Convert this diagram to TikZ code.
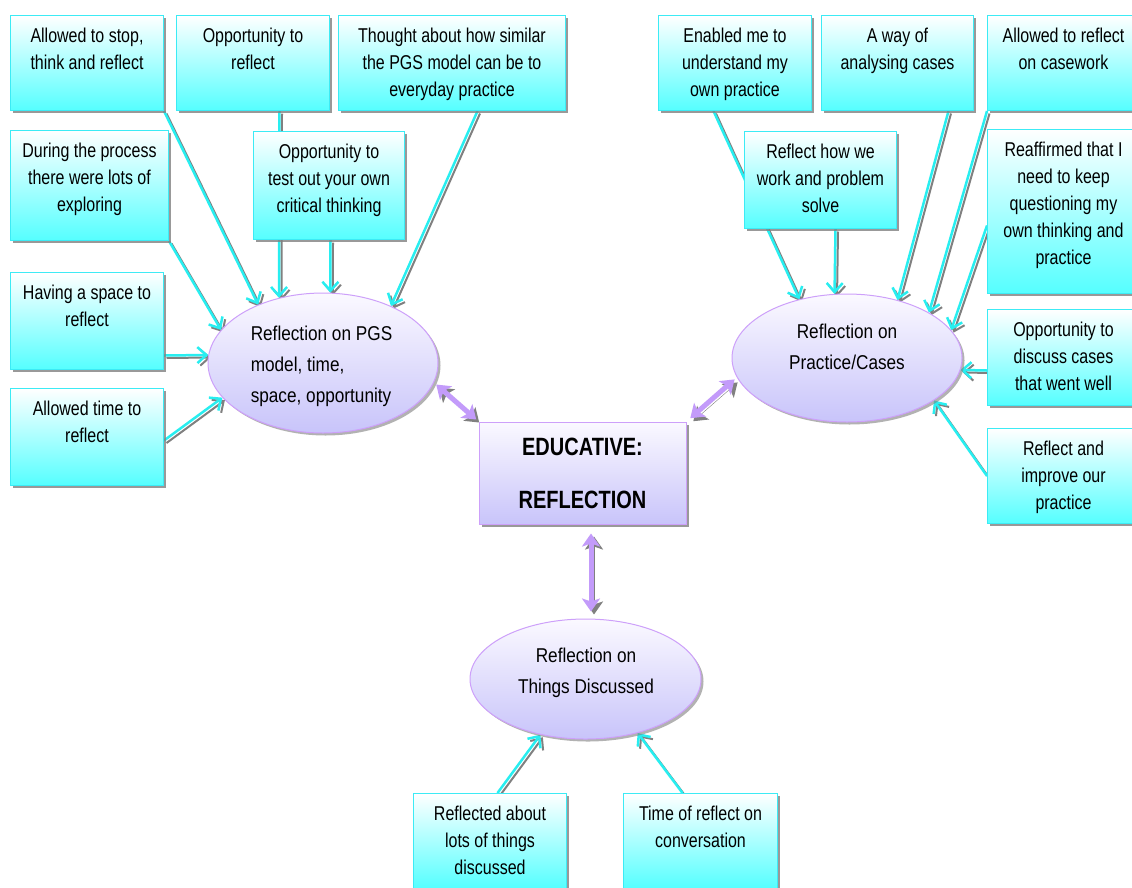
\documentclass[tikz,border=0pt]{standalone}
\usepackage{fontspec}
\setmainfont{Liberation Sans}[FakeStretch=0.8]
\newfontfamily\ellfont{Liberation Sans}[FakeStretch=0.86]
\usetikzlibrary{shapes.geometric,arrows.meta,shadows,backgrounds}

\definecolor{cyanfill}{RGB}{85,255,255}
\definecolor{cyanedge}{RGB}{60,235,245}
\definecolor{linecyan}{RGB}{40,238,240}
\definecolor{lavtop}{RGB}{251,249,255}
\definecolor{lavbot}{RGB}{200,196,250}
\definecolor{lavedge}{RGB}{205,160,250}
\definecolor{purparrow}{RGB}{195,155,250}
\definecolor{shadowgray}{RGB}{128,128,128}

% text block of a cyan box: fixed size, lines set from the top
\newcommand\boxtext[3]{\parbox[c][#2][t]{#1}{\centering\fontsize{20}{27}\selectfont\rule{0pt}{27pt}#3}}

\begin{document}
\begin{tikzpicture}[x=1pt,y=-1pt,
  cbox/.style={draw=cyanedge, line width=1pt, top color=white, bottom color=cyanfill,
    inner sep=0pt, anchor=north west,
    drop shadow={shadow xshift=2.5pt, shadow yshift=-2.5pt, fill=shadowgray, opacity=0.8}},
  ell/.style={ellipse, draw=lavedge, line width=1pt, top color=lavtop, bottom color=lavbot,
    inner sep=0pt,
    drop shadow={shadow xshift=2.5pt, shadow yshift=-2.5pt, fill=shadowgray, opacity=0.6}},
  etext/.style={font=\ellfont\fontsize{20}{31}\selectfont, inner sep=0pt},
  cenbox/.style={draw=lavedge, line width=1pt, top color=lavtop, bottom color=lavbot,
    minimum width=207pt, minimum height=102pt, inner sep=0pt, align=center,
    font=\fontsize{25}{53}\selectfont\bfseries,
    drop shadow={shadow xshift=2.5pt, shadow yshift=-2.5pt, fill=shadowgray, opacity=0.8}},
  carrow/.style={draw=linecyan, line width=2.5pt,
    -{Straight Barb[length=9pt,width=16pt]},
    preaction={draw=shadowgray, line width=2pt, transform canvas={xshift=2.5pt,yshift=-2.5pt}}},
  parrow/.style={draw=purparrow, line width=5pt,
    {Stealth[length=13pt,width=18pt,inset=3pt]}-{Stealth[length=13pt,width=18pt,inset=3pt]},
    preaction={draw=shadowgray, transform canvas={xshift=3pt,yshift=-3pt}}}
]
\useasboundingbox (0,0) rectangle (1132,887);
\clip (0,0) rectangle (1132,887);

% left group of statements
\node[cbox] (b1) at (10,15)  {\boxtext{153pt}{95pt}{Allowed to stop,\\think and reflect}};
\node[cbox] (b2) at (176,15) {\boxtext{153pt}{95pt}{Opportunity to\\reflect}};
\node[cbox] (b3) at (338,15) {\boxtext{227pt}{95pt}{Thought about how similar\\the PGS model can be to\\everyday practice}};
\node[cbox] (b4) at (10,130) {\boxtext{158pt}{110pt}{During the process\\there were lots of\\exploring}};
\node[cbox] (b5) at (253,131) {\boxtext{151pt}{108pt}{Opportunity to\\test out your own\\critical thinking}};
\node[cbox] (b6) at (10,272) {\boxtext{153pt}{97pt}{Having a space to\\reflect}};
\node[cbox] (b7) at (10,388) {\boxtext{153pt}{97pt}{Allowed time to\\reflect}};

% right group of statements
\node[cbox] (b8)  at (658,15)  {\boxtext{153pt}{95pt}{Enabled me to\\understand my\\own practice}};
\node[cbox] (b9)  at (821,15)  {\boxtext{152pt}{95pt}{A way of\\analysing cases}};
\node[cbox] (b10) at (987,15)  {\boxtext{152pt}{95pt}{Allowed to reflect\\on casework}};
\node[cbox] (b11) at (744,131) {\boxtext{152pt}{97pt}{Reflect how we\\work and problem\\solve}};
\node[cbox] (b12) at (987,129) {\boxtext{152pt}{164pt}{Reaffirmed that I\\need to keep\\questioning my\\own thinking and\\practice}};
\node[cbox] (b13) at (987,309) {\boxtext{152pt}{96pt}{Opportunity to\\discuss cases\\that went well}};
\node[cbox] (b14) at (987,428) {\boxtext{152pt}{95pt}{Reflect and\\improve our\\practice}};

% bottom statements
\node[cbox] (b15) at (413,793) {\boxtext{153pt}{95pt}{Reflected about\\lots of things\\discussed}};
\node[cbox] (b16) at (623,793) {\boxtext{154pt}{95pt}{Time of reflect on\\conversation}};

% themes
\node[ell, minimum width=230pt, minimum height=140pt] (e1) at (323,363) {};
\node[etext, align=left] (e1t) at (321.5,366) {Reflection on PGS\\model, time,\\space, opportunity};
\node[ell, minimum width=230pt, minimum height=128pt] (e2) at (847,358) {};
\node[etext, align=center] (e2t) at (847,347) {Reflection on\\Practice/Cases};
\node[ell, minimum width=231pt, minimum height=120pt] (e3) at (585.5,679) {};
\node[etext, align=center] (e3t) at (586,673) {Reflection on\\Things Discussed};

% central concept
\node[cenbox] (c) at (582.5,473) {EDUCATIVE:\\REFLECTION};

\begin{pgfonlayer}{background}
\fill[white] (0,0) rectangle (1132,887);
% statements feeding the PGS theme
\draw[carrow] (b1.south east) -- (e1.138);
\draw[carrow] (b4.south east) -- (e1.162);
\draw[carrow] ([xshift=26.5pt]b2.south) -- (e1.124);
\draw[carrow] ([xshift=1.5pt]b5.south) -- (e1.84);
\draw[carrow] ([xshift=25.5pt]b3.south) -- (e1.40);
\draw[carrow] ([yshift=-34.5pt]b6.east) -- (e1.176);
\draw[carrow] ([yshift=-3.5pt]b7.east) -- (e1.199);
% statements feeding the practice theme
\draw[carrow] ([xshift=-21.5pt]b8.south) -- (e2.129);
\draw[carrow] ([xshift=15pt]b11.south) -- (e2.101);
\draw[carrow] ([xshift=51pt]b9.south) -- (e2.49);
\draw[carrow] (b10.south west) -- (e2.29);
\draw[carrow] ([yshift=-14pt]b12.west) -- (e2.15);
\draw[carrow] ([yshift=-13pt]b13.west) -- (e2.-6);
\draw[carrow] (b14.west) -- (e2.-26);
% statements feeding the discussion theme
\draw[carrow] ([xshift=7.5pt]b15.north) -- (e3.231);
\draw[carrow] ([xshift=-18pt]b16.north) -- (e3.-46);
% themes linked to the central concept
\draw[parrow, shorten <=3pt, shorten >=3pt] (e1.350) -- (c.north west);
\draw[parrow, shorten <=3pt, shorten >=5pt] (e2.190) -- (c.north east);
\draw[parrow, shorten <=9pt, shorten >=7pt] ([xshift=8.5pt]c.south) -- ([xshift=8.5pt]c.south |- e3.north);
\end{pgfonlayer}
\end{tikzpicture}
\end{document}
